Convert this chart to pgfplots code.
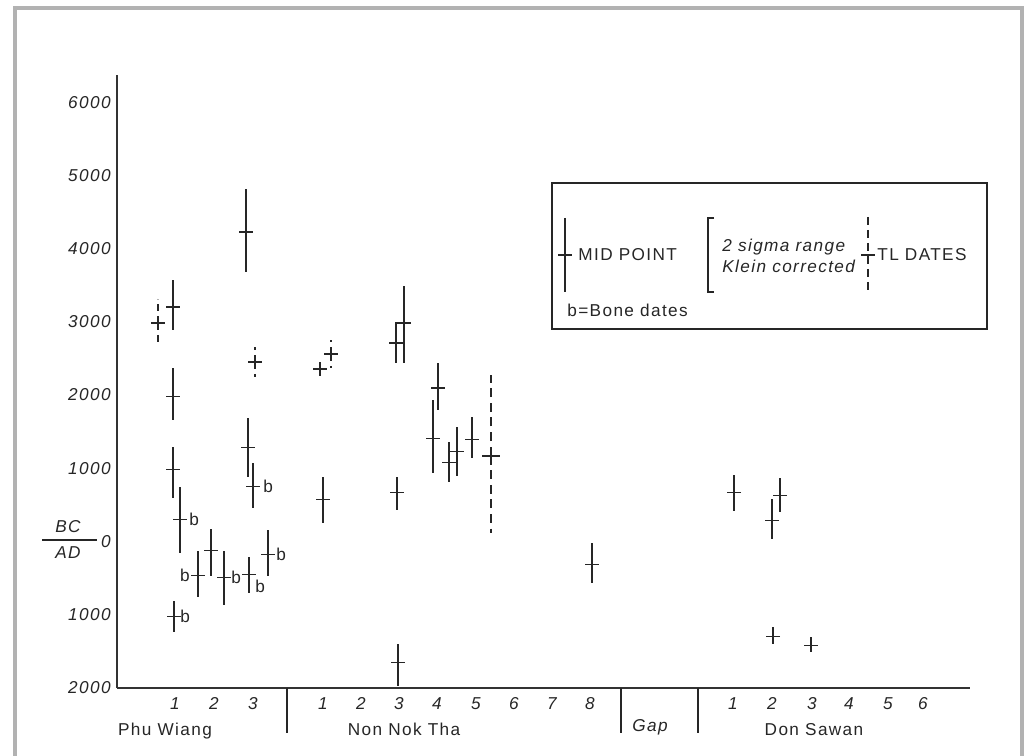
\documentclass[border=0pt]{standalone}
\usepackage{fontspec}
\setmainfont{Liberation Sans}[LetterSpace=8]
\usepackage{pgfplots}
\pgfplotsset{compat=1.18}
\usepackage{pgfplotstable}
\newcommand\lf{\fontsize{8.6}{10}\selectfont}

% radiocarbon dates (solid): x position, mid point (BC positive), +range, -range
\pgfplotstableread{
x y ep em
173 3205 369 313
246 4228 587 545
173 1978 395 314
173 982 314 382
180 300 450 450
174 -1023 205 218
198 -464 328 300
211 -123 300 354
224 -491 355 382
249 -450 232 246
268 -177 341 300
248 1282 409 395
253 750 328 286
323 573 314 314
396 2714 286 273
404 2987 505 546
397 668 219 232
398 -1650 245 328
438 2100 341 300
433 1405 532 464
449 1078 286 260
457 1228 341 328
472 1391 314 245
592 -314 300 246
734 668 246 245
772 286 301 245
780 627 246 218
773 -1296 123 109
811 -1419 109 95
}\rcdates

% TL dates (dashed)
\pgfplotstableread{
x y ep em
158 2987 328 327
255 2455 205 204
320 2360 150 150
331 2564 191 191
}\tldates

\pgfplotstableread{
x y ep em
491 1173 1105 1050
}\tlwide

\begin{document}
\begin{tikzpicture}
\useasboundingbox (0,0) rectangle (512.5pt,378pt);
\begin{axis}[
  at={(58.5pt,34pt)}, anchor=south west,
  scale only axis, width=426.5pt, height=306.5pt,
  xmin=117, xmax=970, ymin=-2000, ymax=6371,
  axis x line=bottom, axis y line=left,
  axis line style={-, line width=1pt, black!80},
  major tick length=0pt,
  xtick={175,214,253,323,361,399,437,476,514,552,590,733,772,812,849,888,923},
  xticklabels={1,2,3,1,2,3,4,5,6,7,8,1,2,3,4,5,6},
  ytick={-2000,-1000,0,1000,2000,3000,4000,5000,6000},
  yticklabels={2000,1000,0,1000,2000,3000,4000,5000,6000},
  ticklabel style={font=\lf\itshape, inner sep=0pt, black!85},
  yticklabel style={xshift=-3pt},
  xticklabel style={yshift=-4.5pt},
  clip=false,
]
\addplot[only marks, black!85, mark=-, mark size=3.5pt, mark options={line width=0.8pt},
  error bars/.cd, y dir=both, y explicit, error mark=none,
  error bar style={line width=1pt, black!85}]
  table[x=x, y=y, y error plus=ep, y error minus=em] {\rcdates};
\addplot[only marks, black!85, mark=-, mark size=3.5pt, mark options={line width=0.8pt},
  error bars/.cd, y dir=both, y explicit, error mark=none,
  error bar style={line width=1pt, black!85, dash pattern=on 3.5pt off 2.5pt}]
  table[x=x, y=y, y error plus=ep, y error minus=em] {\tldates};
\addplot[only marks, black!85, mark=-, mark size=4.3pt, mark options={line width=0.9pt},
  error bars/.cd, y dir=both, y explicit, error mark=none,
  error bar style={line width=1pt, black!85, dash pattern=on 4.5pt off 2.8pt}]
  table[x=x, y=y, y error plus=ep, y error minus=em] {\tlwide};
% bone date labels
\begin{scope}[every node/.style={font=\lf, inner sep=0pt, anchor=west, black!85}]
\node at (axis cs:189,300) {b};
\node at (axis cs:180,-1023) {b};
\node[anchor=east] at (axis cs:190,-464) {b};
\node at (axis cs:231,-491) {b};
\node at (axis cs:255,-614) {b};
\node at (axis cs:276,-177) {b};
\node at (axis cs:263,750) {b};
\end{scope}
\end{axis}

\begin{scope}[x=0.5pt, y=-0.5pt, shift={(0,378pt)}, font=\lf, black!85]
% frame
\draw[gray!60, line width=1.6pt] (15,770)--(15,8)--(1022,8)--(1022,770);
% BC / AD
\node[font=\lf\itshape, inner sep=0pt] at (68,527) {BC};
\node[font=\lf\itshape, inner sep=0pt] at (68,553) {AD};
\draw[line width=0.6pt] (42,540)--(97,540);
% group separators
\foreach \xx in {287,621,698} \draw[line width=0.8pt] (\xx,688)--(\xx,733);
\node[inner sep=0pt, anchor=base] at (165,736) {Phu Wiang};
\node[inner sep=0pt, anchor=base] at (404,736) {Non Nok Tha};
\node[inner sep=0pt, anchor=base, font=\lf\itshape] at (650,732) {Gap};
\node[inner sep=0pt, anchor=base] at (814,736) {Don Sawan};
% legend
\draw[line width=0.8pt] (552,183) rectangle (987,329);
\draw[line width=1pt] (565,218)--(565,292);
\draw[line width=0.8pt] (558,255)--(572,255);
\node[inner sep=0pt, anchor=base west] at (578,261) {MID POINT};
\draw[line width=0.8pt] (714,218)--(708,218)--(708,292)--(714,292);
\node[inner sep=0pt, anchor=base west, font=\lf\itshape] at (722,252) {2 sigma range};
\node[inner sep=0pt, anchor=base west, font=\lf\itshape] at (722,273) {Klein corrected};
\draw[line width=1pt, dash pattern=on 4pt off 2.5pt] (868,217)--(868,292);
\draw[line width=0.8pt] (861,255)--(875,255);
\node[inner sep=0pt, anchor=base west] at (877,261) {TL DATES};
\node[inner sep=0pt, anchor=base west] at (567,317) {b=Bone dates};
\end{scope}
\end{tikzpicture}
\end{document}
